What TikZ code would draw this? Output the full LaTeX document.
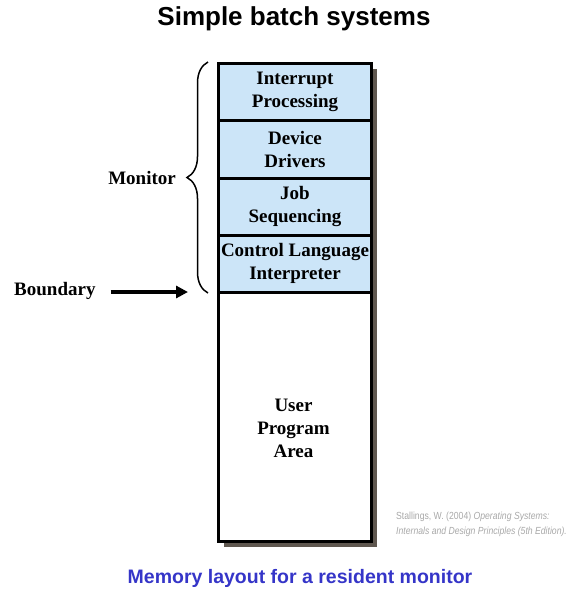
\documentclass[tikz,border=0pt]{standalone}
\usepackage{fontspec}
\setmainfont{Liberation Serif}
\newfontfamily\arialf{Liberation Sans}
\newfontfamily\narrowf[FakeStretch=0.84]{Liberation Sans}
\usetikzlibrary{arrows.meta,decorations.pathreplacing}
\definecolor{segblue}{HTML}{CCE5F8}
\definecolor{shadowc}{HTML}{5F574F}
\definecolor{capblue}{HTML}{3535C8}
\definecolor{citegray}{HTML}{A8A8A8}
\tikzset{
  seg/.style={draw, line width=3pt, fill=segblue, minimum width=153pt, minimum height=57.25pt, inner sep=0pt, align=center, anchor=north west, font=\fontsize{19}{23}\selectfont\bfseries},
  userseg/.style={seg, fill=white, minimum height=249pt},
  lbl/.style={font=\fontsize{19}{23}\selectfont\bfseries, inner sep=0pt},
}
\begin{document}
\begin{tikzpicture}[x=1pt,y=-1pt]
\useasboundingbox (0,0) rectangle (585,606);
\node[font=\arialf\fontsize{26}{30}\selectfont\bfseries] (title) at (294,19) {Simple batch systems};
% shadow
\fill[shadowc] (224,69) rectangle (377,547);
\node[seg] (s1) at (217,62) {Interrupt\\Processing};
\node[seg] (s2) at (217,119.25) {Device\\Drivers};
\node[seg] (s3) at (217,176.5) {Job\\Sequencing};
\node[seg] (s4) at (217,233.75) {Control Language\\Interpreter};
\node[userseg] (s5) at (217,291) {};
\node[lbl, align=center] (s5t) at (293.5,428) {User\\Program\\Area};
% brace
\coordinate (bb) at (208,293);
\coordinate (bt) at (208,62);
\draw[line width=1.5pt, decorate, decoration={brace, amplitude=21pt}] (bb) -- (bt);
\node[lbl, anchor=east] (mon) at (176,178) {Monitor};
\node[lbl, anchor=west] (bnd) at (14,291) {Boundary};
\coordinate (arrend) at (188,292);
\draw[line width=3.2pt, -{Triangle[length=12pt,width=12pt]}] ([xshift=15pt]bnd.east |- arrend) -- (arrend);
\node[font=\narrowf\fontsize{10.3}{15}\selectfont, text=citegray, align=left, anchor=north west, inner sep=0pt] (cite) at (396,512) {Stallings, W. (2004) \textit{Operating Systems:}\\\textit{Internals and Design Principles (5th Edition).}};
\node[font=\arialf\fontsize{19.5}{23}\selectfont\bfseries, text=capblue] (cap) at (300,578) {Memory layout for a resident monitor};
\end{tikzpicture}
\end{document}
